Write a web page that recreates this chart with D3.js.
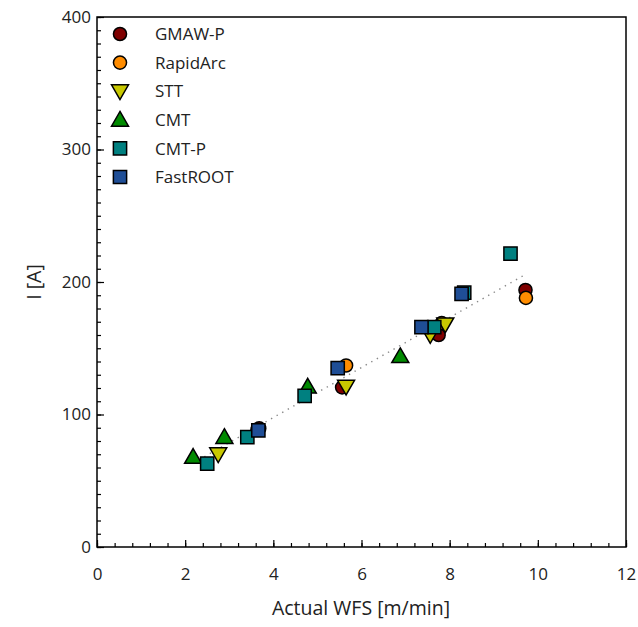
<!DOCTYPE html>
<html>
<head>
<meta charset="utf-8">
<script src="https://cdn.jsdelivr.net/npm/d3@7"></script>
<style>
  html, body { margin: 0; padding: 0; background: #fff; }
  svg text { font-family: "Open Sans", "Noto Sans", sans-serif; fill: #222; }
</style>
</head>
<body>
<svg id="chart" width="638" height="627"></svg>
<script>
// Welding process: wire feed speed vs. current
const seriesNames = ["GMAW-P", "RapidArc", "STT", "CMT", "CMT-P", "FastROOT"];
const seriesColors = ["#7f0000", "#ff8c00", "#c8c800", "#008a00", "#008080", "#1f4e96"];
const seriesShapes = ["circle", "circle", "triangleDown", "triangleUp", "square", "square"];

const wfsGMAWP = [3.68, 5.56, 7.75, 9.72];
const curGMAWP = [89.5, 120.5, 160, 194];
const wfsRapidArc = [3.64, 5.65, 7.82, 9.73];
const curRapidArc = [88.5, 137, 169, 188];
const wfsSTT = [2.75, 5.65, 7.56, 7.9];
const curSTT = [70, 121, 160, 168];
const wfsCMT = [2.18, 2.89, 4.78, 6.88];
const curCMT = [68, 83, 121, 144];
const wfsCMTP = [2.5, 3.41, 4.71, 7.65, 8.33, 9.38];
const curCMTP = [63, 83, 114, 166, 192, 221.5];
const wfsFastROOT = [3.66, 5.46, 7.36, 8.27];
const curFastROOT = [88, 135, 166, 191];

const xTicks = [0, 2, 4, 6, 8, 10, 12];
const yTicks = [0, 100, 200, 300, 400];

const seriesX = [wfsGMAWP, wfsRapidArc, wfsSTT, wfsCMT, wfsCMTP, wfsFastROOT];
const seriesY = [curGMAWP, curRapidArc, curSTT, curCMT, curCMTP, curFastROOT];

const svg = d3.select("#chart");
const plotL = 97, plotR = 626, plotT = 17, plotB = 547;

const x = d3.scaleLinear().domain([0, 12]).range([plotL, plotR]);
const y = d3.scaleLinear().domain([0, 400]).range([plotB, plotT]);

// minor ticks (inside)
const xMinor = d3.range(0, 12.0001, 0.4);
const yMinor = d3.range(0, 400.0001, 10);

svg.append("g")
  .attr("transform", `translate(0,${plotB})`)
  .call(d3.axisTop(x).tickValues(xMinor).tickSize(4).tickFormat(""))
  .call(g => g.select(".domain").remove())
  .selectAll("line").attr("stroke", "#000").attr("stroke-width", 1.2);

svg.append("g")
  .attr("transform", `translate(${plotL},0)`)
  .call(d3.axisRight(y).tickValues(yMinor).tickSize(4).tickFormat(""))
  .call(g => g.select(".domain").remove())
  .selectAll("line").attr("stroke", "#000").attr("stroke-width", 1.2);

// major ticks + labels
const xAxis = svg.append("g")
  .attr("transform", `translate(0,${plotB})`)
  .call(d3.axisTop(x).tickValues(xTicks).tickSize(7).tickFormat(d3.format("d")))
  .call(g => g.select(".domain").remove());
xAxis.selectAll("line").attr("stroke", "#000").attr("stroke-width", 1.2);
xAxis.selectAll("text")
  .attr("y", 33).attr("dy", 0)
  .style("font-size", "17px");

const yAxis = svg.append("g")
  .attr("transform", `translate(${plotL},0)`)
  .call(d3.axisRight(y).tickValues(yTicks).tickSize(7).tickFormat(d3.format("d")))
  .call(g => g.select(".domain").remove());
yAxis.selectAll("line").attr("stroke", "#000").attr("stroke-width", 1.2);
yAxis.selectAll("text")
  .attr("x", -6).attr("text-anchor", "end")
  .style("font-size", "17px");

// frame
svg.append("rect")
  .attr("x", plotL).attr("y", plotT)
  .attr("width", plotR - plotL).attr("height", plotB - plotT)
  .attr("fill", "none").attr("stroke", "#000").attr("stroke-width", 1.5);

// axis titles
svg.append("text")
  .attr("x", 361).attr("y", 615)
  .attr("text-anchor", "middle")
  .style("font-size", "19.5px")
  .text("Actual WFS [m/min]");

svg.append("text")
  .attr("transform", `translate(41,282) rotate(-90)`)
  .attr("text-anchor", "middle")
  .style("font-size", "19.5px")
  .text("I [A]");

// linear trend over all points
const allX = seriesX.flat(), allY = seriesY.flat();
const mx = d3.mean(allX), my = d3.mean(allY);
const slope = d3.sum(allX, (v, i) => (v - mx) * (allY[i] - my)) / d3.sum(allX, v => (v - mx) ** 2);
const intercept = my - slope * mx;
const [xmin, xmax] = d3.extent(allX);
svg.append("line")
  .attr("x1", x(xmin)).attr("y1", y(intercept + slope * xmin))
  .attr("x2", x(xmax)).attr("y2", y(intercept + slope * xmax))
  .attr("stroke", "#888").attr("stroke-width", 1.4)
  .attr("stroke-dasharray", "1.4,5");

// marker shapes
const symbolFor = {
  circle: d3.symbol().type(d3.symbolCircle).size(135),
  square: d3.symbol().type(d3.symbolSquare).size(175),
  triangleUp: d3.symbol().type(d3.symbolTriangle).size(125),
  triangleDown: d3.symbol().type(d3.symbolTriangle).size(125)
};
function drawMarker(g, shape, color, cx, cy) {
  const rot = shape === "triangleDown" ? 180 : 0;
  const dy = shape === "triangleUp" ? 1.5 : (shape === "triangleDown" ? -1.5 : 0);
  g.append("path")
    .attr("d", symbolFor[shape]())
    .attr("transform", `translate(${cx},${cy + dy}) rotate(${rot})`)
    .attr("fill", color)
    .attr("stroke", "#000")
    .attr("stroke-width", 1.5);
}

const pts = svg.append("g");
seriesNames.forEach((name, si) => {
  seriesX[si].forEach((v, i) => {
    drawMarker(pts, seriesShapes[si], seriesColors[si], x(v), y(seriesY[si][i]));
  });
});

// legend
const legend = svg.append("g");
seriesNames.forEach((name, si) => {
  const ly = 34 + si * 28.6;
  drawMarker(legend, seriesShapes[si], seriesColors[si], 120, ly);
  legend.append("text")
    .attr("x", 155).attr("y", ly).attr("dy", "0.36em")
    .style("font-size", "17px")
    .text(name);
});
</script>
</body>
</html>
